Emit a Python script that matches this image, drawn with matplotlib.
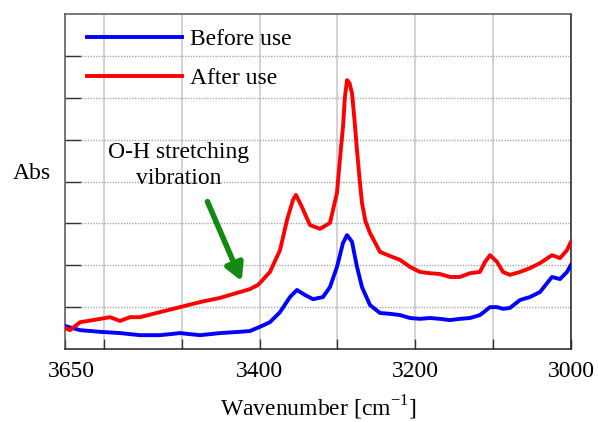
import matplotlib
matplotlib.use("Agg")
import matplotlib.pyplot as plt
from matplotlib.transforms import ScaledTranslation

plt.rcParams['font.family'] = ['Liberation Serif', 'DejaVu Serif']
plt.rcParams['mathtext.fontset'] = 'custom'
plt.rcParams['mathtext.rm'] = 'Liberation Serif'

# Data
wn_after = [3650, 3643.6, 3630.7, 3614, 3592.2, 3579.3, 3566.5, 3553.7, 3528, 3502.3,
            3476.6, 3450.9, 3429, 3412.4, 3402.1, 3399.5, 3386.7, 3373.8, 3364.8, 3357.1,
            3353.3, 3345.6, 3335.3, 3322.4, 3309.6, 3300.6, 3296.5, 3292.9, 3290.5, 3287.7,
            3284.5, 3281.3, 3278, 3274.9, 3271.5, 3268.5, 3264, 3258.2, 3245.4, 3232.5,
            3219.7, 3206.8, 3194, 3181.1, 3168.3, 3155.4, 3142.6, 3129.7, 3116.9, 3110.4,
            3104, 3095, 3087.3, 3078.4, 3065.5, 3052.7, 3039.8, 3024.4, 3014.1, 3005.1, 3000]
abs_after = [0.50, 0.45, 0.64, 0.69, 0.76, 0.67, 0.76, 0.76, 0.88, 1.00,
             1.12, 1.22, 1.34, 1.43, 1.53, 1.58, 1.84, 2.36, 3.08, 3.56,
             3.68, 3.39, 2.96, 2.87, 3.01, 3.73, 4.60, 5.30, 6.00, 6.42,
             6.35, 6.11, 5.45, 4.75, 4.05, 3.49, 3.05, 2.77, 2.32, 2.22,
             2.13, 1.96, 1.84, 1.81, 1.79, 1.72, 1.72, 1.81, 1.84, 2.08,
             2.24, 2.08, 1.84, 1.77, 1.84, 1.93, 2.05, 2.24, 2.17, 2.36, 2.56]

wn_before = [3650, 3630.7, 3605, 3579.3, 3553.7, 3528, 3502.3, 3476.6, 3450.9, 3425.2,
             3412.4, 3399.5, 3386.7, 3373.8, 3361, 3352, 3341.7, 3331.4, 3318.6, 3309.6,
             3300.6, 3292.9, 3287.7, 3281.3, 3274.9, 3268.5, 3258.2, 3245.4, 3232.5, 3219.7,
             3206.8, 3194, 3181.1, 3168.3, 3155.4, 3142.6, 3129.7, 3116.9, 3104, 3095,
             3087.3, 3078.4, 3065.5, 3052.7, 3039.8, 3024.4, 3014.1, 3005.1, 3000]
abs_before = [0.55, 0.45, 0.41, 0.38, 0.33, 0.33, 0.38, 0.33, 0.38, 0.41,
              0.43, 0.53, 0.64, 0.88, 1.24, 1.41, 1.29, 1.19, 1.24, 1.48,
              1.96, 2.53, 2.72, 2.56, 1.96, 1.48, 1.05, 0.86, 0.84, 0.81,
              0.74, 0.72, 0.74, 0.72, 0.69, 0.72, 0.74, 0.81, 1.00, 1.00,
              0.96, 0.98, 1.17, 1.24, 1.36, 1.72, 1.67, 1.84, 2.01]

tick_positions = [3650, 3600, 3500, 3400, 3300, 3200, 3100, 3000]
tick_labels = ['3650', '', '', '3400', '', '3200', '', '3000']

fig = plt.figure(figsize=(5.98, 4.22), dpi=100)
ax = fig.add_axes([0.1087, 0.1730, 0.8461, 0.7938])

ax.plot(wn_before, abs_before, color='#0000ff', lw=2.8, label='Before use', zorder=3,
        solid_joinstyle='round')
ax.plot(wn_after, abs_after, color='#ff0000', lw=2.8, label='After use', zorder=3,
        solid_joinstyle='round')

ax.set_xlim(3650, 3000)
ax.set_ylim(0, 8)
ax.set_xticks(tick_positions)
ax.set_xticklabels(tick_labels, fontsize=17)
ax.set_yticks([1, 2, 3, 4, 5, 6, 7])
ax.set_yticklabels([])

ax.tick_params(axis='x', direction='in', length=7, width=1, pad=9, colors='#333333',
               labelcolor='black')
ax.tick_params(axis='y', direction='in', length=11.5, width=1, colors='#333333')

# shift first tick label slightly right like the reference
first = ax.get_xticklabels()[0]
first.set_transform(first.get_transform() + ScaledTranslation(6 / 100, 0, fig.dpi_scale_trans))

ax.xaxis.grid(True, color='#c8c8c8', lw=1.1, ls='-')
ax.yaxis.grid(True, color='#aaaaaa', lw=1.0, ls=(0, (1, 1)))
ax.set_axisbelow(True)

for s in ['top', 'left']:
    ax.spines[s].set_color('#555555')
for s in ['bottom', 'right']:
    ax.spines[s].set_color('#222222')
for s in ax.spines.values():
    s.set_linewidth(1.1)

ax.set_xlabel('Wavenumber [cm$^{-1}$]', fontsize=17, labelpad=8)
fig.text(32 / 598, 1 - 173 / 422, 'Abs', fontsize=17, ha='center', va='center')

leg = ax.legend(loc='upper left', frameon=False, fontsize=17, handlelength=4.0,
                handletextpad=0.35, labelspacing=0.75, borderaxespad=0.0,
                bbox_to_anchor=(0.025, 0.985))

ax.annotate('', xy=(3423, 1.62), xytext=(3467, 3.52),
            arrowprops=dict(arrowstyle='-|>,head_length=1.0,head_width=0.55',
                            color='#128a12', lw=4.0, shrinkA=0, shrinkB=0))
ax.text(3504, 4.38, 'O-H stretching\nvibration', fontsize=17, ha='center', va='center',
        linespacing=1.3)

fig.savefig('out.png', dpi=100)
